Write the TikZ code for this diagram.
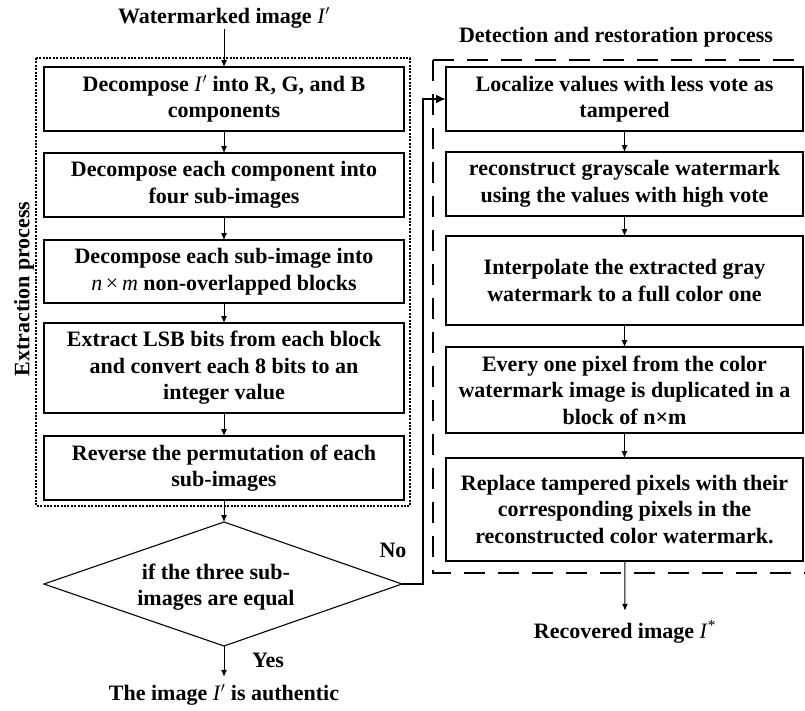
\documentclass[tikz,border=0pt]{standalone}
\usepackage{fontspec}
\setmainfont{Liberation Serif}
\usetikzlibrary{arrows.meta}

% italic, non-bold symbols used inside the bold labels
\newcommand{\imgI}{\textit{\mdseries I}$'$}
\newcommand{\nm}{\textit{\mdseries n}\,{\mdseries ×}\,\textit{\mdseries m}}

\begin{document}
\begin{tikzpicture}[x=1pt,y=-1pt,
  font=\fontsize{22}{26.5}\selectfont\bfseries,
  every node/.style={inner sep=1pt, outer sep=0pt},
  lbox/.style={draw, line width=1.6pt, inner sep=0pt, align=center,
               minimum width=360pt},
  rbox/.style={draw, line width=1.6pt, inner sep=0pt, align=center,
               minimum width=357pt},
  flow/.style={line width=1pt, -{Latex[length=7pt,width=6pt]}},
  mainflow/.style={line width=2.6pt, -{Latex[length=10pt,width=9pt]}},
  dotframe/.style={line width=2pt, dash pattern=on 2pt off 1.4pt},
  dashframe/.style={line width=2.6pt, dash pattern=on 21pt off 13pt}]

\useasboundingbox (0,0) rectangle (805,710);

% ---------------- extraction process ----------------
\draw[dotframe] (36,58) rectangle (410,506);
\node[rotate=90] (xlab) at (24,289) {Extraction process};

\node (wm) at (224,18) {Watermarked image \imgI};

\node[lbox, minimum height=64pt] (e1) at (224,99)
  {Decompose \imgI\ into R, G, and B\\components};
\node[lbox, minimum height=64pt] (e2) at (224,185)
  {Decompose each component into\\four sub-images};
\node[lbox, minimum height=63pt] (e3) at (224,271.5)
  {Decompose each sub-image into\\\nm\ non-overlapped blocks};
\node[lbox, minimum height=90pt] (e4) at (224,368)
  {Extract LSB bits from each block\\and convert each 8 bits to an\\integer value};
\node[lbox, minimum height=64pt] (e5) at (224,468)
  {Reverse the permutation of each\\sub-images};

% decision
\coordinate (dtop) at (224,522);
\coordinate (dright) at (402,584);
\coordinate (dbot) at (224,646);
\coordinate (dleft) at (44,584);
\draw[line width=1.1pt] (dtop) -- (dright) -- (dbot) -- (dleft) -- cycle;
\node[align=center] (dq) at (216,587) {if the three sub-\\images are equal};

\node (auth) at (224,695) {The image \imgI\ is authentic};
\node (yes) at (268,660) {Yes};
\node (no) at (393,550) {No};

\draw[flow] (wm) -- (e1);
\draw[flow] (e1) -- (e2);
\draw[flow] (e2) -- (e3);
\draw[flow] (e3) -- (e4);
\draw[flow] (e4) -- (e5);
\draw[flow] (e5) -- (dtop);
\draw[flow] (dbot) -- ([yshift=7pt]auth.north);

% ---------------- detection and restoration ----------------
\draw[dashframe] (433,60) -- (812,60);
\draw[dashframe] (433,60) -- (433,573) -- (812,573);
\node (dtitle) at (616,37) {Detection and restoration process};

\node[rbox, minimum height=64pt] (r1) at (624.5,99)
  {Localize values with less vote as\\tampered};
\node[rbox, minimum height=64pt] (r2) at (624.5,184)
  {reconstruct grayscale watermark\\using the values with high vote};
\node[rbox, minimum height=89pt] (r3) at (624.5,280.5)
  {Interpolate the extracted gray\\watermark to a full color one};
\node[rbox, minimum height=86pt] (r4) at (624.5,390)
  {Every one pixel from the color\\watermark image is duplicated in a\\block of n×m};
\node[rbox, minimum height=103pt] (r5) at (624.5,509.5)
  {Replace tampered pixels with their\\corresponding pixels in the\\reconstructed color watermark.};

\node (rec) at (625,632) {Recovered image \textit{\mdseries I}\textsuperscript{\mdseries *}};

\draw[flow] (r1) -- (r2);
\draw[flow] (r2) -- (r3);
\draw[flow] (r3) -- (r4);
\draw[flow] (r4) -- (r5);
\draw[flow] (r5) -- ([yshift=9pt]rec.north);

% "No" branch into the restoration stage
\draw[mainflow] (dright) -- (423,584) |- (r1.west);

\end{tikzpicture}
\end{document}
